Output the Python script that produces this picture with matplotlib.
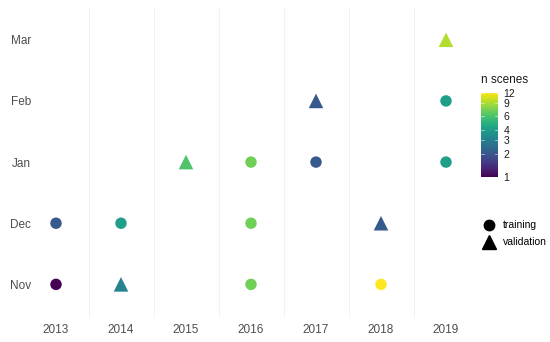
import numpy as np
import matplotlib
matplotlib.use('Agg')
import matplotlib.pyplot as plt
from matplotlib.colors import LogNorm
from matplotlib.lines import Line2D

plt.rcParams['font.family'] = ['Liberation Sans', 'DejaVu Sans']

# scenes per acquisition month
years = [2013, 2013, 2014, 2014, 2015, 2016, 2016, 2016, 2017, 2017, 2018, 2018, 2019, 2019, 2019]
months = ['Nov', 'Dec', 'Nov', 'Dec', 'Jan', 'Nov', 'Dec', 'Jan', 'Jan', 'Feb', 'Nov', 'Dec', 'Jan', 'Feb', 'Mar']
usage = ['training', 'training', 'validation', 'training', 'validation',
         'training', 'training', 'training', 'training', 'validation',
         'training', 'validation', 'training', 'training', 'validation']
n_scenes = [1, 2, 3, 4, 6, 7, 7, 7, 2, 2, 12, 2, 4, 4, 9]

month_order = ['Nov', 'Dec', 'Jan', 'Feb', 'Mar']
year_ticks = [2013, 2014, 2015, 2016, 2017, 2018, 2019]
cbar_ticks = [1, 2, 3, 4, 6, 9, 12]

fig = plt.figure(figsize=(5.5, 3.42), dpi=100)
ax = fig.add_axes([36.5 / 550, 24 / 342, 429 / 550, 310 / 342])

norm = LogNorm(vmin=1, vmax=12)
cmap = plt.get_cmap('viridis')

x = np.array(years)
y = np.array([month_order.index(m) for m in months])
c = np.array(n_scenes)
use = np.array(usage)

tr = use == 'training'
ax.scatter(x[tr], y[tr], c=c[tr], cmap=cmap, norm=norm, marker='o', s=68,
           linewidths=0, zorder=3)
ax.scatter(x[~tr], y[~tr], c=c[~tr], cmap=cmap, norm=norm, marker='^', s=110,
           linewidths=0, zorder=3)

ax.set_xlim(2012.7, 2019.3)
ax.set_ylim(-0.55, 4.52)
for gx in np.arange(2013.5, 2019, 1.0):
    ax.axvline(gx, color='#f0f0f0', lw=0.6, zorder=1)

ax.set_xticks(year_ticks)
ax.set_xticklabels([str(v) for v in year_ticks])
ax.set_yticks(range(len(month_order)))
ax.set_yticklabels(month_order)
ax.tick_params(length=0, labelsize=8.5, labelcolor='#4d4d4d', pad=4)
for s in ax.spines.values():
    s.set_visible(False)

# colour bar
cax = fig.add_axes([481 / 550, (342 - 177) / 342, 17 / 550, 84 / 342])
grad = np.linspace(0, 1, 200).reshape(-1, 1)
cax.imshow(grad, aspect='auto', origin='lower', cmap=cmap, extent=[0, 1, 0, 1])
cax.set_xlim(0, 1)
cax.set_ylim(0, 1)
pos = [np.log(t) / np.log(12) for t in cbar_ticks]
for p in pos:
    cax.plot([0, 0.2], [p, p], color='white', lw=0.5, alpha=0.7)
    cax.plot([0.8, 1], [p, p], color='white', lw=0.5, alpha=0.7)
cax.set_xticks([])
cax.yaxis.tick_right()
cax.set_yticks(pos)
cax.set_yticklabels([str(t) for t in cbar_ticks])
cax.tick_params(length=0, labelsize=7.5, labelcolor='#1a1a1a', pad=4)
for s in cax.spines.values():
    s.set_visible(False)
fig.text(481 / 550, 1 - 83 / 342, 'n scenes', fontsize=8.5, color='#1a1a1a',
         ha='left', va='baseline')

# shape legend
handles = [Line2D([], [], marker='o', ls='', color='black', markersize=7.5, label='training'),
           Line2D([], [], marker='^', ls='', color='black', markersize=10, label='validation')]
fig.legend(handles=handles, loc='upper left', bbox_to_anchor=(477 / 550, 1 - 216 / 342),
           frameon=False, fontsize=7.5, handletextpad=0.6, labelspacing=0.7,
           borderaxespad=0, handlelength=1.5)

fig.savefig('out.png', dpi=100)
